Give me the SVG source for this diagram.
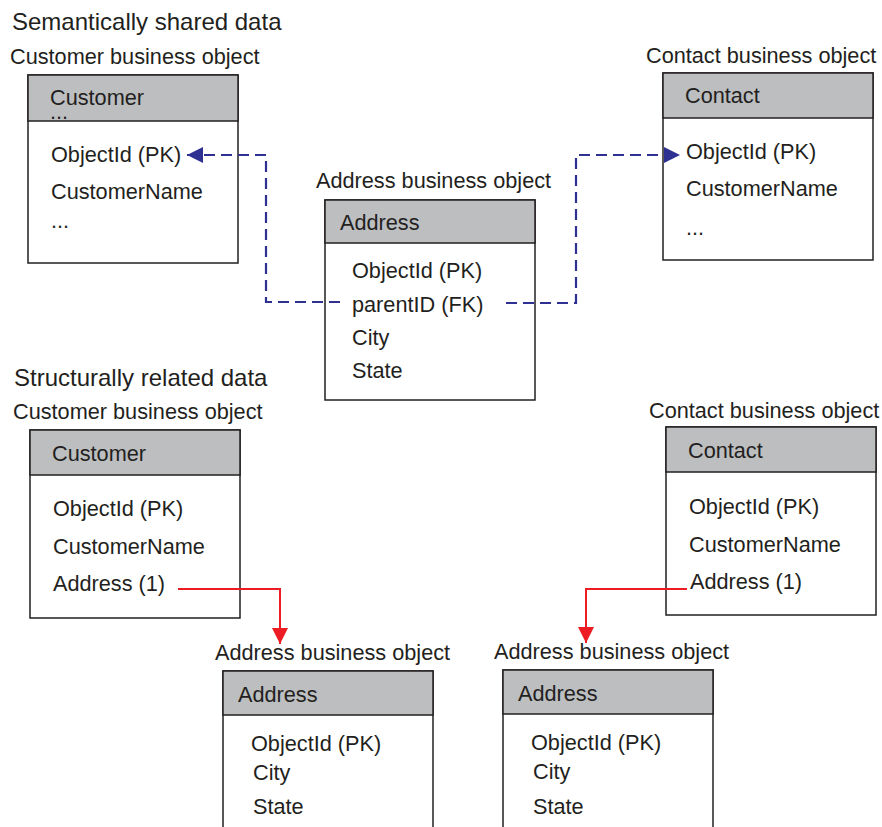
<svg xmlns="http://www.w3.org/2000/svg" width="882" height="827" viewBox="0 0 882 827">
<defs>
<style>
text{font-family:"Liberation Sans",Arial,sans-serif;fill:#231f20;font-size:21.7px}
.title{font-size:24px}
.box{fill:#fff;stroke:#231f20;stroke-width:1.5}
.hdr{fill:#bcbec0;stroke:#231f20;stroke-width:1.5}
.dash{fill:none;stroke:#2e3192;stroke-width:2.2;stroke-dasharray:11 6}
.red{fill:none;stroke:#ed1c24;stroke-width:2}
</style>
<marker id="ab" viewBox="0 0 10 10" refX="10" refY="5" markerWidth="16" markerHeight="16" markerUnits="userSpaceOnUse" orient="auto"><path d="M0,0L10,5L0,10z" fill="#2e3192"/></marker>
<marker id="ar" viewBox="0 0 10 10" refX="10" refY="5" markerWidth="16" markerHeight="16" markerUnits="userSpaceOnUse" orient="auto"><path d="M0,0L10,5L0,10z" fill="#ed1c24"/></marker>
</defs>
<rect width="882" height="827" fill="#fff"/>
<text class="title" x="12" y="30">Semantically shared data</text>
<text class="title" x="14" y="386">Structurally related data</text>

<g id="cust1">
<text x="10" y="64">Customer business object</text>
<rect class="box" x="28" y="75" width="210" height="188"/>
<rect class="hdr" x="28" y="75" width="210" height="46"/>
<text x="50" y="105">Customer</text>
<text x="50" y="119">...</text>
<text x="51" y="162">ObjectId (PK)</text>
<text x="51" y="199">CustomerName</text>
<text x="51" y="228">...</text>
</g>

<g id="addr1">
<text x="316" y="188">Address business object</text>
<rect class="box" x="325" y="200" width="210" height="200"/>
<rect class="hdr" x="325" y="200" width="210" height="43"/>
<text x="340" y="230">Address</text>
<text x="352" y="278">ObjectId (PK)</text>
<text x="352" y="312">parentID (FK)</text>
<text x="352" y="345">City</text>
<text x="352" y="378">State</text>
</g>

<g id="cont1">
<text x="646" y="63">Contact business object</text>
<rect class="box" x="663" y="73" width="210" height="187"/>
<rect class="hdr" x="663" y="73" width="210" height="45"/>
<text x="685" y="103">Contact</text>
<text x="686" y="159">ObjectId (PK)</text>
<text x="686" y="196">CustomerName</text>
<text x="686" y="235">...</text>
</g>

<g id="cust2">
<text x="13" y="419">Customer business object</text>
<rect class="box" x="30" y="430" width="210" height="188"/>
<rect class="hdr" x="30" y="430" width="210" height="45"/>
<text x="52" y="461">Customer</text>
<text x="53" y="516">ObjectId (PK)</text>
<text x="53" y="554">CustomerName</text>
<text x="53" y="591">Address (1)</text>
</g>

<g id="cont2">
<text x="649" y="418">Contact business object</text>
<rect class="box" x="666" y="427" width="210" height="188"/>
<rect class="hdr" x="666" y="427" width="210" height="45"/>
<text x="688" y="458">Contact</text>
<text x="689" y="514">ObjectId (PK)</text>
<text x="689" y="552">CustomerName</text>
<text x="690" y="589">Address (1)</text>
</g>

<g id="addr2">
<text x="215" y="660">Address business object</text>
<rect class="box" x="223" y="671" width="210" height="170"/>
<rect class="hdr" x="223" y="671" width="210" height="44"/>
<text x="238" y="702">Address</text>
<text x="251" y="751">ObjectId (PK)</text>
<text x="253" y="780">City</text>
<text x="253" y="814">State</text>
</g>

<g id="addr3">
<text x="494" y="659">Address business object</text>
<rect class="box" x="503" y="670" width="210" height="170"/>
<rect class="hdr" x="503" y="670" width="210" height="44"/>
<text x="518" y="701">Address</text>
<text x="531" y="750">ObjectId (PK)</text>
<text x="533" y="779">City</text>
<text x="533" y="814">State</text>
</g>

<g id="connectors">
<path class="dash" d="M340,302H266V155H187" marker-end="url(#ab)"/>
<path class="dash" d="M506,303H576V155H680" marker-end="url(#ab)"/>
<path class="red" d="M178,589H280V644" marker-end="url(#ar)"/>
<path class="red" d="M687,589H586V643" marker-end="url(#ar)"/>
</g>
</svg>
